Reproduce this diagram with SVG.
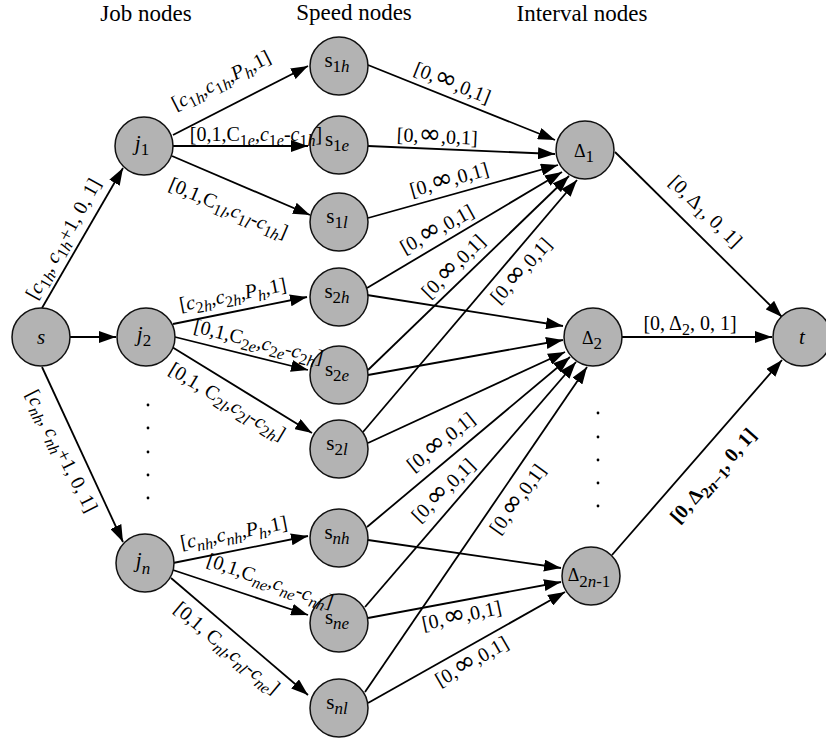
<svg xmlns="http://www.w3.org/2000/svg" width="826" height="742" viewBox="0 0 826 742">
<defs>
<marker id="ah" markerWidth="17" markerHeight="12" refX="17" refY="6" orient="auto" markerUnits="userSpaceOnUse"><path d="M0,0 L17,6 L0,12 z" fill="#000"/></marker>
<style>
.e{stroke:#000;stroke-width:1.8;fill:none;marker-end:url(#ah)}
.n{fill:#b3b3b3;stroke:#111;stroke-width:1.5}
text{font-family:"Liberation Serif","Times New Roman",serif;fill:#000}
.hd{font-size:23px;text-anchor:middle}
.nl{font-size:21px;text-anchor:middle}
.lb{font-size:20px;text-anchor:middle}
.i{font-style:italic}
.sb{font-size:16px}
.ns{font-size:17px}
.b{font-weight:bold}
.inf{font-family:"DejaVu Sans",sans-serif;font-size:27px}
.dot{fill:#000}
</style>
</defs>
<rect width="826" height="742" fill="#fff"/>
<g id="headers">
<text class="hd" x="146" y="21">Job nodes</text>
<text class="hd" x="354" y="20">Speed nodes</text>
<text class="hd" x="582" y="21">Interval nodes</text>
</g>
<g id="connectors">
<line class="e" x1="42" y1="308" x2="123" y2="168"/>
<line class="e" x1="70" y1="337" x2="116" y2="337"/>
<line class="e" x1="42" y1="367" x2="123" y2="542"/>
<line class="e" x1="173" y1="135" x2="308" y2="66"/>
<line class="e" x1="173" y1="146" x2="308" y2="146"/>
<line class="e" x1="172" y1="156" x2="310" y2="215"/>
<line class="e" x1="173" y1="324" x2="307" y2="297"/>
<line class="e" x1="175" y1="337" x2="308" y2="370"/>
<line class="e" x1="172" y1="347" x2="312" y2="433"/>
<line class="e" x1="173" y1="563" x2="308" y2="536"/>
<line class="e" x1="173" y1="570" x2="308" y2="615"/>
<line class="e" x1="171" y1="578" x2="308" y2="695"/>
<line class="e" x1="368" y1="65" x2="555" y2="140"/>
<line class="e" x1="368" y1="146" x2="555" y2="154"/>
<line class="e" x1="368" y1="218" x2="558" y2="165"/>
<line class="e" x1="367" y1="288" x2="562" y2="172"/>
<line class="e" x1="368" y1="370" x2="569" y2="176"/>
<line class="e" x1="363" y1="432" x2="577" y2="180"/>
<line class="e" x1="367" y1="295" x2="563" y2="326"/>
<line class="e" x1="368" y1="375" x2="563" y2="340"/>
<line class="e" x1="368" y1="443" x2="565" y2="352"/>
<line class="e" x1="367" y1="527" x2="570" y2="357"/>
<line class="e" x1="365" y1="607" x2="576" y2="362"/>
<line class="e" x1="365" y1="692" x2="587" y2="367"/>
<line class="e" x1="368" y1="540" x2="561" y2="568"/>
<line class="e" x1="368" y1="618" x2="561" y2="582"/>
<line class="e" x1="368" y1="703" x2="565" y2="592"/>
<line class="e" x1="615" y1="152" x2="782" y2="317"/>
<line class="e" x1="622" y1="337" x2="772" y2="337"/>
<line class="e" x1="612" y1="555" x2="782" y2="360"/>
</g>
<g id="dots">
<circle class="dot" cx="148" cy="405" r="1.4"/><circle class="dot" cx="148" cy="428" r="1.4"/><circle class="dot" cx="148" cy="452" r="1.4"/><circle class="dot" cx="148" cy="475" r="1.4"/><circle class="dot" cx="148" cy="498" r="1.4"/>
<circle class="dot" cx="598" cy="413" r="1.4"/><circle class="dot" cx="598" cy="437" r="1.4"/><circle class="dot" cx="598" cy="460" r="1.4"/><circle class="dot" cx="598" cy="483" r="1.4"/><circle class="dot" cx="598" cy="506" r="1.4"/>
</g>
<g id="node-s"><circle class="n" cx="41" cy="337" r="29"/><text class="nl i" x="41" y="344">s</text></g>
<g id="node-j1"><circle class="n" cx="144" cy="146" r="29"/><text class="nl" x="142" y="150"><tspan class="i">j</tspan><tspan class="ns" dy="5">1</tspan></text></g>
<g id="node-j2"><circle class="n" cx="146" cy="337" r="29"/><text class="nl" x="144" y="341"><tspan class="i">j</tspan><tspan class="ns" dy="5">2</tspan></text></g>
<g id="node-jn"><circle class="n" cx="145" cy="563" r="29"/><text class="nl" x="143" y="567"><tspan class="i">j</tspan><tspan class="ns i" dy="7">n</tspan></text></g>
<g id="node-s1h"><circle class="n" cx="339" cy="66" r="29"/><text class="nl" x="337" y="67">s<tspan class="ns" dy="5">1<tspan class="i">h</tspan></tspan></text></g>
<g id="node-s1e"><circle class="n" cx="339" cy="145" r="29"/><text class="nl" x="337" y="146">s<tspan class="ns" dy="5">1<tspan class="i">e</tspan></tspan></text></g>
<g id="node-s1l"><circle class="n" cx="339" cy="222" r="29"/><text class="nl" x="337" y="223">s<tspan class="ns" dy="5">1<tspan class="i">l</tspan></tspan></text></g>
<g id="node-s2h"><circle class="n" cx="339" cy="297" r="29"/><text class="nl" x="337" y="298">s<tspan class="ns" dy="5">2<tspan class="i">h</tspan></tspan></text></g>
<g id="node-s2e"><circle class="n" cx="339" cy="375" r="29"/><text class="nl" x="337" y="376">s<tspan class="ns" dy="5">2<tspan class="i">e</tspan></tspan></text></g>
<g id="node-s2l"><circle class="n" cx="339" cy="449" r="29"/><text class="nl" x="337" y="450">s<tspan class="ns" dy="5">2<tspan class="i">l</tspan></tspan></text></g>
<g id="node-snh"><circle class="n" cx="339" cy="538" r="29"/><text class="nl" x="337" y="539">s<tspan class="ns i" dy="5">nh</tspan></text></g>
<g id="node-sne"><circle class="n" cx="339" cy="623" r="29"/><text class="nl" x="337" y="624">s<tspan class="ns i" dy="5">ne</tspan></text></g>
<g id="node-snl"><circle class="n" cx="339" cy="708" r="29"/><text class="nl" x="337" y="709">s<tspan class="ns i" dy="5">nl</tspan></text></g>
<g id="node-d1"><circle class="n" cx="585" cy="150" r="29"/><text class="nl" x="584" y="157" style="font-size:18px">Δ<tspan class="ns" dy="5">1</tspan></text></g>
<g id="node-d2"><circle class="n" cx="593" cy="337" r="29"/><text class="nl" x="592" y="344" style="font-size:18px">Δ<tspan class="ns" dy="5">2</tspan></text></g>
<g id="node-d2n1"><circle class="n" cx="591" cy="576" r="29"/><text class="nl" x="589" y="581" style="font-size:18px">Δ<tspan class="ns" dy="6">2<tspan class="i">n</tspan>-1</tspan></text></g>
<g id="node-t"><circle class="n" cx="802" cy="337" r="29"/><text class="nl i" x="802" y="344">t</text></g>
<g id="edge-labels">
<text class="lb" transform="translate(69,242) rotate(-61)">[<tspan class="i">c</tspan><tspan class="sb" dy="5">1<tspan class="i">h</tspan></tspan><tspan dy="-5">, </tspan><tspan class="i">c</tspan><tspan class="sb" dy="5">1<tspan class="i">h</tspan></tspan><tspan dy="-5">+1, 0, 1]</tspan></text>
<text class="lb" transform="translate(56,454) rotate(63)">[<tspan class="i">c</tspan><tspan class="sb i" dy="5">nh</tspan><tspan dy="-5">, </tspan><tspan class="i">c</tspan><tspan class="sb i" dy="5">nh</tspan><tspan dy="-5">+1, 0, 1]</tspan></text>
<text class="lb" transform="translate(224,86) rotate(-27)">[<tspan class="i">c</tspan><tspan class="sb" dy="5">1<tspan class="i">h</tspan></tspan><tspan dy="-5">,</tspan><tspan class="i">c</tspan><tspan class="sb" dy="5">1<tspan class="i">h</tspan></tspan><tspan dy="-5">,</tspan><tspan class="i">P</tspan><tspan class="sb i" dy="5">h</tspan><tspan dy="-5">,1]</tspan></text>
<text class="lb" transform="translate(256,141)">[0,1,C<tspan class="sb" dy="5">1<tspan class="i">e</tspan></tspan><tspan dy="-5">,</tspan><tspan class="i">c</tspan><tspan class="sb" dy="5">1<tspan class="i">e</tspan></tspan><tspan dy="-5">-</tspan><tspan class="i">c</tspan><tspan class="sb" dy="5">1<tspan class="i">h</tspan></tspan><tspan dy="-5">]</tspan></text>
<text class="lb" transform="translate(226,214) rotate(23)">[0,1,C<tspan class="sb" dy="5">1<tspan class="i">l</tspan></tspan><tspan dy="-5">,</tspan><tspan class="i">c</tspan><tspan class="sb" dy="5">1<tspan class="i">l</tspan></tspan><tspan dy="-5">-</tspan><tspan class="i">c</tspan><tspan class="sb" dy="5">1<tspan class="i">h</tspan></tspan><tspan dy="-5">]</tspan></text>
<text class="lb" transform="translate(234,301) rotate(-11)">[<tspan class="i">c</tspan><tspan class="sb" dy="5">2<tspan class="i">h</tspan></tspan><tspan dy="-5">,</tspan><tspan class="i">c</tspan><tspan class="sb" dy="5">2<tspan class="i">h</tspan></tspan><tspan dy="-5">,</tspan><tspan class="i">P</tspan><tspan class="sb i" dy="5">h</tspan><tspan dy="-5">,1]</tspan></text>
<text class="lb" transform="translate(257,348) rotate(14)">[0,1,C<tspan class="sb" dy="5">2<tspan class="i">e</tspan></tspan><tspan dy="-5">,</tspan><tspan class="i">c</tspan><tspan class="sb" dy="5">2<tspan class="i">e</tspan></tspan><tspan dy="-5">-</tspan><tspan class="i">c</tspan><tspan class="sb" dy="5">2<tspan class="i">h</tspan></tspan><tspan dy="-5">]</tspan></text>
<text class="lb" transform="translate(224,407) rotate(31)">[0,1, C<tspan class="sb" dy="5">2<tspan class="i">l</tspan></tspan><tspan dy="-5">,</tspan><tspan class="i">c</tspan><tspan class="sb" dy="5">2<tspan class="i">l</tspan></tspan><tspan dy="-5">-</tspan><tspan class="i">c</tspan><tspan class="sb" dy="5">2<tspan class="i">h</tspan></tspan><tspan dy="-5">]</tspan></text>
<text class="lb" transform="translate(235,539) rotate(-11)">[<tspan class="i">c</tspan><tspan class="sb i" dy="5">nh</tspan><tspan dy="-5">,</tspan><tspan class="i">c</tspan><tspan class="sb i" dy="5">nh</tspan><tspan dy="-5">,</tspan><tspan class="i">P</tspan><tspan class="sb i" dy="5">h</tspan><tspan dy="-5">,1]</tspan></text>
<text class="lb" transform="translate(268,587) rotate(19)">[0,1,C<tspan class="sb i" dy="5">ne</tspan><tspan dy="-5">,</tspan><tspan class="i">c</tspan><tspan class="sb i" dy="5">ne</tspan><tspan dy="-5">-</tspan><tspan class="i">c</tspan><tspan class="sb i" dy="5">nh</tspan><tspan dy="-5">]</tspan></text>
<text class="lb" transform="translate(223,653) rotate(40)">[0,1, C<tspan class="sb i" dy="5">nl</tspan><tspan dy="-5">,</tspan><tspan class="i">c</tspan><tspan class="sb i" dy="5">nl</tspan><tspan dy="-5">-</tspan><tspan class="i">c</tspan><tspan class="sb i" dy="5">ne</tspan><tspan dy="-5">]</tspan></text>
<text class="lb" transform="translate(450,89) rotate(21.7)">[0,<tspan class="inf">∞</tspan>,0,1]</text>
<text class="lb" transform="translate(437,143) rotate(2.5)">[0,<tspan class="inf">∞</tspan>,0,1]</text>
<text class="lb" transform="translate(451,186) rotate(-15.8)">[0,<tspan class="inf">∞</tspan>,0,1]</text>
<text class="lb" transform="translate(440,235) rotate(-29)">[0,<tspan class="inf">∞</tspan>,0,1]</text>
<text class="lb" transform="translate(458,271) rotate(-45)">[0,<tspan class="inf">∞</tspan>,0,1]</text>
<text class="lb" transform="translate(526,275) rotate(-48)">[0,<tspan class="inf">∞</tspan>,0,1]</text>
<text class="lb" transform="translate(445,447) rotate(-39)">[0,<tspan class="inf">∞</tspan>,0,1]</text>
<text class="lb" transform="translate(448,495) rotate(-45)">[0,<tspan class="inf">∞</tspan>,0,1]</text>
<text class="lb" transform="translate(523,503) rotate(-54)">[0,<tspan class="inf">∞</tspan>,0,1]</text>
<text class="lb" transform="translate(463,622) rotate(-12)">[0,<tspan class="inf">∞</tspan>,0,1]</text>
<text class="lb" transform="translate(475,667) rotate(-30)">[0,<tspan class="inf">∞</tspan>,0,1]</text>
<text class="lb" transform="translate(701,216) rotate(44.5)">[0, Δ<tspan class="sb" dy="5">1</tspan><tspan dy="-5">, 0, 1]</tspan></text>
<text class="lb" transform="translate(690,330)">[0, Δ<tspan class="sb" dy="5">2</tspan><tspan dy="-5">, 0, 1]</tspan></text>
<text class="lb b" transform="translate(718,480) rotate(-48.5)">[0, Δ<tspan class="sb" dy="5">2<tspan class="i">n</tspan>−1</tspan><tspan dy="-5">, 0, 1]</tspan></text>
</g>
</svg>
